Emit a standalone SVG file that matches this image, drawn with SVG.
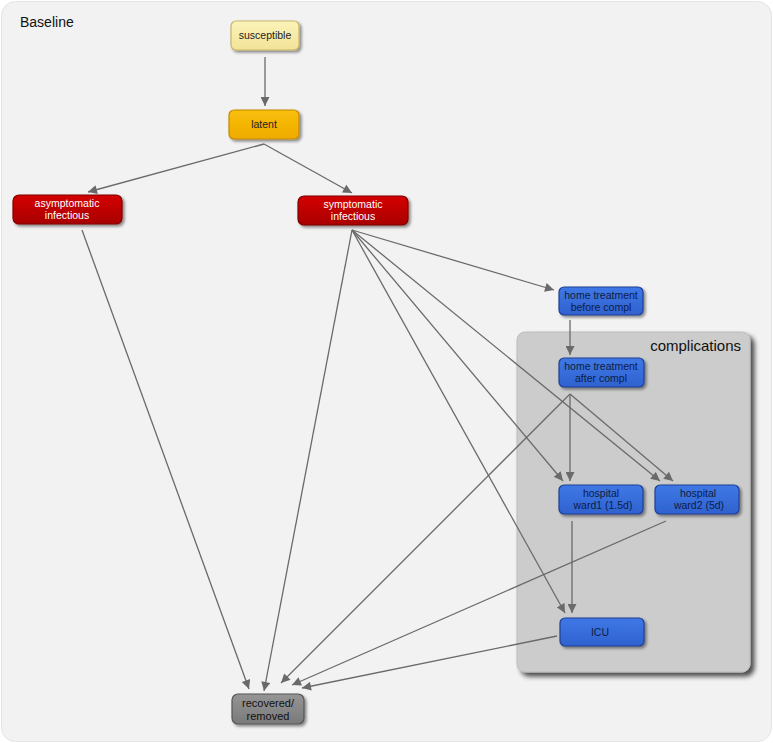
<svg xmlns="http://www.w3.org/2000/svg" width="773" height="743" viewBox="0 0 773 743">
<defs>
<filter id="sh" x="-20%" y="-20%" width="150%" height="160%">
<feGaussianBlur in="SourceAlpha" stdDeviation="1.5"/>
<feOffset dx="2" dy="2" result="b"/>
<feComponentTransfer><feFuncA type="linear" slope="0.45"/></feComponentTransfer>
<feMerge><feMergeNode/><feMergeNode in="SourceGraphic"/></feMerge>
</filter>
<filter id="sh2" x="-10%" y="-10%" width="120%" height="120%">
<feGaussianBlur in="SourceAlpha" stdDeviation="2.5"/>
<feOffset dx="4" dy="4" result="b"/>
<feComponentTransfer><feFuncA type="linear" slope="0.7"/></feComponentTransfer>
<feMerge><feMergeNode/><feMergeNode in="SourceGraphic"/></feMerge>
</filter>
<linearGradient id="gRed" x1="0" y1="0" x2="0" y2="1"><stop offset="0" stop-color="#d40000"/><stop offset="1" stop-color="#a80000"/></linearGradient>
<linearGradient id="gBlue" x1="0" y1="0" x2="0" y2="1"><stop offset="0" stop-color="#3f78e6"/><stop offset="1" stop-color="#2f62cf"/></linearGradient>
<linearGradient id="gYel" x1="0" y1="0" x2="0" y2="1"><stop offset="0" stop-color="#fcf3b8"/><stop offset="1" stop-color="#f3e398"/></linearGradient>
<linearGradient id="gOr" x1="0" y1="0" x2="0" y2="1"><stop offset="0" stop-color="#f9bf0a"/><stop offset="1" stop-color="#efab00"/></linearGradient>
<linearGradient id="gGr" x1="0" y1="0" x2="0" y2="1"><stop offset="0" stop-color="#959595"/><stop offset="1" stop-color="#7a7a7a"/></linearGradient>
<marker id="ah" viewBox="0 0 10 10" refX="10" refY="5" markerWidth="10" markerHeight="9" markerUnits="userSpaceOnUse" orient="auto">
<path d="M0,0 L10,5 L0,10 z" fill="#6a6a6a"/>
</marker>
</defs>
<style>
text{font-family:"Liberation Sans","DejaVu Sans",sans-serif;font-size:10.5px;text-anchor:middle}
.n rect{stroke-width:1.2;filter:url(#sh)}
.red rect{fill:url(#gRed);stroke:#7f0000}
.red text{fill:#ffffff}
.blue rect{fill:url(#gBlue);stroke:#1e3f93}
.blue text{fill:#0d1d44}
.c line{stroke:#6a6a6a;stroke-width:1.3;marker-end:url(#ah)}
</style>
<rect x="1.5" y="1.5" width="770" height="740" rx="14" fill="#f2f2f2" stroke="#e4e4e4"/>
<text x="20" y="27" style="font-size:14px;text-anchor:start;fill:#111">Baseline</text>
<g id="complications">
<rect x="517" y="332" width="233" height="340" rx="8" fill="#cccccc" stroke="#bcbcbc" filter="url(#sh2)"/>
<text x="741" y="351" style="font-size:15px;text-anchor:end;fill:#111">complications</text>
</g>
<g id="connectors" class="c">
<line x1="265" y1="57" x2="265" y2="106"/>
<line x1="264" y1="144" x2="88" y2="192"/>
<line x1="264" y1="144" x2="352" y2="193"/>
<line x1="82" y1="230" x2="249" y2="689"/>
<line x1="352" y1="230" x2="264" y2="691"/>
<line x1="352" y1="230" x2="554" y2="290"/>
<line x1="352" y1="230" x2="563" y2="481"/>
<line x1="352" y1="230" x2="660" y2="481"/>
<line x1="352" y1="230" x2="565" y2="613"/>
<line x1="570" y1="320" x2="570" y2="355"/>
<line x1="570" y1="394" x2="570" y2="481"/>
<line x1="570" y1="394" x2="673" y2="481"/>
<line x1="570" y1="394" x2="281" y2="683"/>
<line x1="572" y1="521" x2="572" y2="613"/>
<line x1="666" y1="521" x2="292" y2="685"/>
<line x1="557" y1="636" x2="302" y2="688"/>
</g>
<g id="susceptible" class="n"><rect x="231" y="21" width="68" height="29" rx="5" fill="url(#gYel)" stroke="#c7b56c"/><text x="265" y="39" fill="#222">susceptible</text></g>
<g id="latent" class="n"><rect x="229" y="110" width="70" height="29" rx="5" fill="url(#gOr)" stroke="#c48a00"/><text x="264" y="128" fill="#222">latent</text></g>
<g id="asymptomatic" class="n red"><rect x="13" y="195" width="109" height="29" rx="6"/><text x="67" y="207">asymptomatic</text><text x="67" y="219">infectious</text></g>
<g id="symptomatic" class="n red"><rect x="298" y="196" width="110" height="29" rx="6"/><text x="353" y="208">symptomatic</text><text x="353" y="220">infectious</text></g>
<g id="home_before" class="n blue"><rect x="559" y="287" width="84" height="28" rx="5"/><text x="601" y="298.5">home treatment</text><text x="601" y="310.5">before compl</text></g>
<g id="home_after" class="n blue"><rect x="559" y="358" width="85" height="29" rx="5"/><text x="601" y="370">home treatment</text><text x="601" y="382">after compl</text></g>
<g id="ward1" class="n blue"><rect x="559" y="485" width="84" height="29" rx="5"/><text x="601" y="497">hospital</text><text x="603" y="509">ward1 (1.5d)</text></g>
<g id="ward2" class="n blue"><rect x="655" y="485" width="84" height="29" rx="5"/><text x="698" y="497">hospital</text><text x="699" y="509">ward2 (5d)</text></g>
<g id="ICU" class="n blue"><rect x="560" y="618" width="84" height="28" rx="5"/><text x="600" y="636">ICU</text></g>
<g id="recovered" class="n"><rect x="232" y="694" width="72" height="30" rx="6" fill="url(#gGr)" stroke="#555"/><text x="268" y="707" fill="#111" style="font-size:11px">recovered/</text><text x="268" y="719.5" fill="#111" style="font-size:11px">removed</text></g>
</svg>
